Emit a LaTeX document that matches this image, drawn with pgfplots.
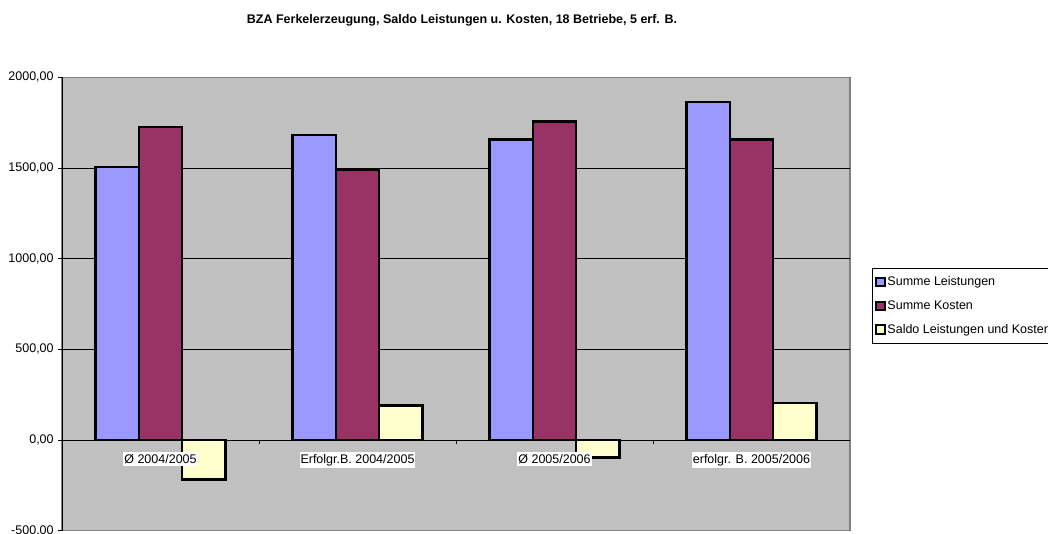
\documentclass[border=0pt]{standalone}
\usepackage{pgfplots}
\pgfplotsset{compat=1.18}
\usepackage{fontspec}
\setmainfont{Liberation Sans}
\definecolor{cLeist}{RGB}{153,153,255}
\definecolor{cKost}{RGB}{153,51,102}
\definecolor{cSaldo}{RGB}{255,255,204}
\definecolor{bgGray}{RGB}{192,192,192}
\definecolor{frameGray}{RGB}{128,128,128}
\pgfplotsset{layers/mylayers/.define layer set={axis background,axis grid,pre main,main,axis ticks,axis lines,axis tick labels,axis descriptions,axis foreground}{/pgfplots/layers/standard}}
\begin{document}
\fontsize{12.5}{15}\selectfont
\begin{tikzpicture}
\begin{axis}[
  set layers=mylayers,
  at={(62pt,3.3pt)}, anchor=south west,
  scale only axis, width=788pt, height=453.4pt,
  xmin=-0.5, xmax=3.5, ymin=-500, ymax=2000,
  axis x line*=middle, axis y line*=left,
  axis line style={black, line width=0.9pt},
  axis background/.style={fill=bgGray, draw=frameGray, line width=1.2pt},
  ytick={-500,0,500,1000,1500,2000},
  extra y ticks={0,500,1000,1500}, extra y tick labels={},
  extra y tick style={grid=major},
  major grid style={black, line width=0.8pt},
  tick align=outside, major tick length=4pt,
  tick style={black, line width=0.8pt},
  xtick={0.5,1.5,2.5}, xticklabels={},
  extra x ticks={0,1,2,3},
  extra x tick labels={Ø 2004/2005, Erfolgr.B. 2004/2005, Ø 2005/2006, erfolgr. B. 2005/2006},
  extra x tick style={major tick length=0pt, xticklabel style={fill=white, inner xsep=1pt, inner ysep=2pt, yshift=-12pt}},
  ticklabel style={font=\fontsize{12.5}{15}\selectfont},
  yticklabel style={/pgf/number format/fixed, /pgf/number format/fixed zerofill, /pgf/number format/precision=2, /pgf/number format/use comma, /pgf/number format/1000 sep={}, /pgf/number format/assume math mode=true},
  ybar=0pt, bar width=43.3pt,
  legend style={at={(1.0275,0.5787)}, anchor=north west, draw=black, line width=0.6pt, fill=white, font=\fontsize{12.5}{15}\selectfont, row sep=9pt, inner xsep=3pt, inner ysep=6pt, nodes={inner xsep=1pt, inner ysep=2pt}, cells={anchor=west}},
  legend image code/.code={\draw[#1, draw=black, line width=2pt] (0pt,-4.2pt) rectangle (9.5pt,4.2pt);},
]
\addplot[fill=cLeist, draw=black, line width=2.6pt] coordinates {(0,1506) (1,1681) (2,1657) (3,1864)};
\addplot[fill=cKost, draw=black, line width=2.6pt] coordinates {(0,1726) (1,1489) (2,1756) (3,1658)};
\addplot[fill=cSaldo, draw=black, line width=2.6pt] coordinates {(0,-218) (1,190) (2,-98) (3,204)};
\legend{Summe Leistungen, Summe Kosten, Saldo Leistungen und Kosten}
\end{axis}
\node[font=\fontsize{12.5}{15}\selectfont\bfseries] at (462pt,513.3pt) {BZA Ferkelerzeugung, Saldo Leistungen u. Kosten, 18 Betriebe, 5 erf. B.};
\pgfresetboundingbox
\path[use as bounding box] (0,0) rectangle (1048pt,534pt);
\end{tikzpicture}
\end{document}
